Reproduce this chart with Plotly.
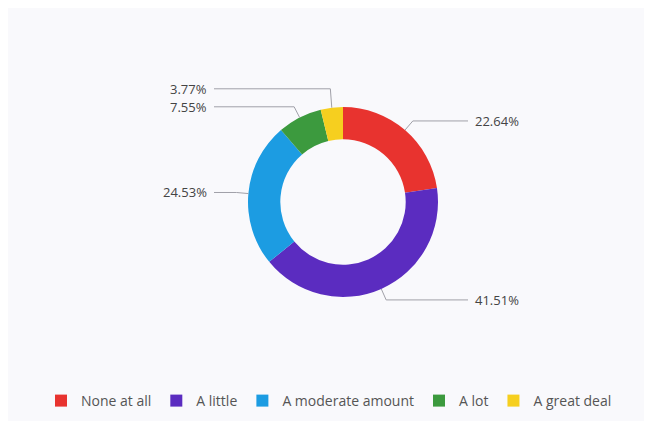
import math
import plotly.graph_objects as go

categories = ["None at all", "A little", "A moderate amount", "A lot", "A great deal"]
values = [22.64, 41.51, 24.53, 7.55, 3.77]
label_texts = ["22.64%", "41.51%", "24.53%", "7.55%", "3.77%"]
colors = ["#E8332F", "#5B2CC0", "#1C9CE2", "#3C9A3E", "#F6CF1F"]

W, H = 652, 421
OFF = 8                # page offset of the figure in the browser
CX, CY = 343 - OFF, 202 - OFF   # donut centre (figure px)
R_OUT = 95             # outer radius (px)
HOLE = 0.66
R_ELBOW = 107
X_RIGHT_LINE_END = 468 - OFF
X_LEFT_LINE_END = 214 - OFF
FONT = "Open Sans, Roboto, sans-serif"

def px(x):
    return x / W

def py(y):
    return 1 - y / H

fig = go.Figure()
fig.add_trace(go.Pie(
    labels=categories,
    values=values,
    hole=HOLE,
    sort=False,
    direction="clockwise",
    rotation=0,
    marker=dict(colors=colors, line=dict(width=0)),
    textinfo="none",
    hoverinfo="label+percent",
    domain=dict(x=[px(CX - R_OUT), px(CX + R_OUT)], y=[py(CY + R_OUT), py(CY - R_OUT)]),
    showlegend=True,
))

total = sum(values)
shapes = []
annotations = []
cum = 0
items = []
for v, t in zip(values, label_texts):
    mid = (cum + v / 2) / total * 2 * math.pi
    cum += v
    sx, sy = CX + R_OUT * math.sin(mid), CY - R_OUT * math.cos(mid)
    ex, ey = CX + R_ELBOW * math.sin(mid), CY - R_ELBOW * math.cos(mid)
    items.append([mid, sx, sy, ex, ey, t])

# simple collision avoidance on the left side (push upper labels up)
MIN_GAP = 18
left = sorted([it for it in items if math.sin(it[0]) < 0], key=lambda it: -it[4])
for i in range(1, len(left)):
    if left[i - 1][4] - left[i][4] < MIN_GAP:
        left[i][4] = left[i - 1][4] - MIN_GAP

for mid, sx, sy, ex, ey, t in items:
    right = math.sin(mid) >= 0
    lx = X_RIGHT_LINE_END if right else X_LEFT_LINE_END
    path = f"M {px(sx)} {py(sy)} L {px(ex)} {py(ey)} L {px(lx)} {py(ey)}"
    shapes.append(dict(type="path", xref="paper", yref="paper", path=path,
                       line=dict(color="#A0A0A8", width=1)))
    annotations.append(dict(
        xref="paper", yref="paper", x=px(lx + (6 if right else -6)), y=py(ey),
        text=t, showarrow=False, xanchor="left" if right else "right", yanchor="middle",
        borderpad=0,
        font=dict(family=FONT, size=13, color="#444444")))

fig.update_layout(
    width=W, height=H,
    margin=dict(l=0, r=0, t=0, b=0),
    paper_bgcolor="#F9F9FC",
    plot_bgcolor="#F9F9FC",
    shapes=shapes,
    annotations=annotations,
    legend=dict(orientation="h", x=px(329 - OFF), xanchor="center", y=py(401 - OFF), yanchor="middle",
                font=dict(family=FONT, size=14, color="#555555"),
                itemwidth=30, bgcolor="rgba(0,0,0,0)", traceorder="normal"),
)

fig.write_html("out.html")
